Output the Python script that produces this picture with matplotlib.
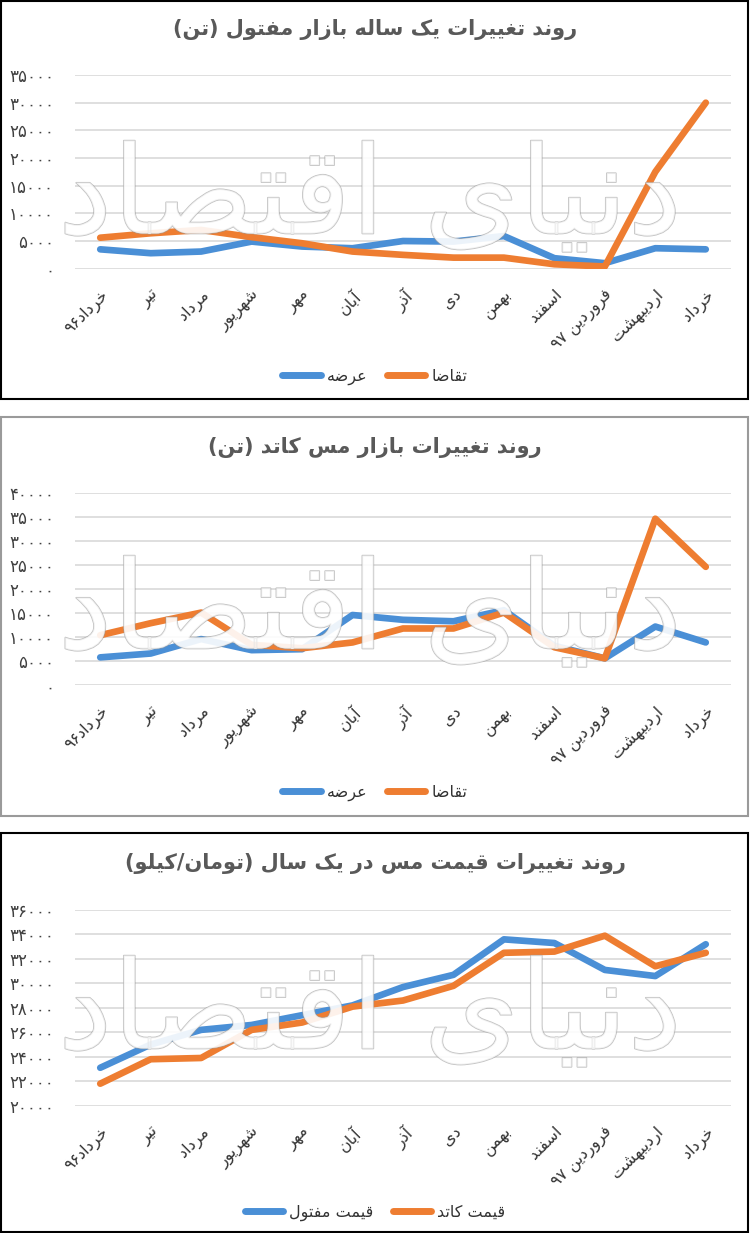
import matplotlib
matplotlib.use("Agg")
import matplotlib.pyplot as plt
import matplotlib.patheffects as pe
from matplotlib.patches import Rectangle
from matplotlib.lines import Line2D

plt.rcParams['font.family'] = ['DejaVu Sans']

# ---- data ----
months = ["خرداد۹۶", "تیر", "مرداد", "شهریور", "مهر", "آبان", "آذر", "دی",
          "بهمن", "اسفند", "فروردین ۹۷", "اردیبهشت", "خرداد"]

wire_supply = [3500, 2800, 3100, 4900, 4000, 3700, 5000, 4900, 5900, 1900, 1000, 3700, 3500]
wire_demand = [5600, 6400, 7000, 5700, 4600, 3100, 2500, 2000, 2000, 800, 400, 17500, 30000]

cathode_supply = [5800, 6600, 9600, 7300, 7500, 14600, 13600, 13300, 15600, 8200, 5600, 12200, 8900]
cathode_demand = [10400, 12900, 15100, 8400, 7700, 8900, 11800, 11800, 15100, 7900, 5600, 34600, 24600]

wire_price = [23100, 25000, 26200, 26600, 27400, 28200, 29700, 30700, 33600, 33300, 31100, 30600, 33200]
cathode_price = [21800, 23800, 23900, 26200, 26800, 28100, 28600, 29800, 32500, 32600, 33900, 31400, 32500]

titles = ["روند تغییرات یک ساله بازار مفتول (تن)",
          "روند تغییرات بازار مس کاتد (تن)",
          "روند تغییرات قیمت مس در یک سال (تومان/کیلو)"]
legend_names = [("عرضه", "تقاضا"), ("عرضه", "تقاضا"), ("قیمت مفتول", "قیمت کاتد")]
watermark = "دنیای اقتصاد"

# ---- tiny persian shaper (matplotlib has no bidi / joining) ----
FORMS = {  # isolated, final, initial, medial
    'ا': ('\uFE8D', '\uFE8E', None, None), 'آ': ('\uFE81', '\uFE82', None, None),
    'ب': ('\uFE8F', '\uFE90', '\uFE91', '\uFE92'), 'ت': ('\uFE95', '\uFE96', '\uFE97', '\uFE98'),
    'خ': ('\uFEA5', '\uFEA6', '\uFEA7', '\uFEA8'), 'د': ('\uFEA9', '\uFEAA', None, None),
    'ذ': ('\uFEAB', '\uFEAC', None, None), 'ر': ('\uFEAD', '\uFEAE', None, None),
    'ز': ('\uFEAF', '\uFEB0', None, None), 'س': ('\uFEB1', '\uFEB2', '\uFEB3', '\uFEB4'),
    'ش': ('\uFEB5', '\uFEB6', '\uFEB7', '\uFEB8'), 'ص': ('\uFEB9', '\uFEBA', '\uFEBB', '\uFEBC'),
    'ض': ('\uFEBD', '\uFEBE', '\uFEBF', '\uFEC0'),
    'ع': ('\uFEC9', '\uFECA', '\uFECB', '\uFECC'), 'غ': ('\uFECD', '\uFECE', '\uFECF', '\uFED0'),
    'ف': ('\uFED1', '\uFED2', '\uFED3', '\uFED4'), 'ق': ('\uFED5', '\uFED6', '\uFED7', '\uFED8'),
    'ل': ('\uFEDD', '\uFEDE', '\uFEDF', '\uFEE0'), 'م': ('\uFEE1', '\uFEE2', '\uFEE3', '\uFEE4'),
    'ن': ('\uFEE5', '\uFEE6', '\uFEE7', '\uFEE8'), 'ه': ('\uFEE9', '\uFEEA', '\uFEEB', '\uFEEC'),
    'و': ('\uFEED', '\uFEEE', None, None), 'ک': ('\uFB8E', '\uFB8F', '\uFB90', '\uFB91'),
    'ی': ('\uFBFC', '\uFBFD', '\uFBFE', '\uFBFF'),
}
DIGITS = set("0123456789۰۱۲۳۴۵۶۷۸۹")


def fa(text):
    out = []
    for i, ch in enumerate(text):
        if ch not in FORMS:
            out.append(ch)
            continue
        prev = text[i - 1] if i > 0 else ''
        nxt = text[i + 1] if i + 1 < len(text) else ''
        join_prev = prev in FORMS and FORMS[prev][2] is not None
        join_next = nxt in FORMS and FORMS[ch][2] is not None
        f = FORMS[ch]
        if join_prev and join_next:
            out.append(f[3])
        elif join_prev:
            out.append(f[1])
        elif join_next:
            out.append(f[2])
        else:
            out.append(f[0])
    # visual order: reverse, keep digit runs left-to-right, mirror brackets
    rev = out[::-1]
    res, run = [], []
    for ch in rev:
        if ch in DIGITS:
            run.append(ch)
        else:
            res.extend(run[::-1])
            run = []
            res.append({'(': ')', ')': '('}.get(ch, ch))
    res.extend(run[::-1])
    return ''.join(res)


def fa_num(v, pos=None):
    return str(int(v)).translate(str.maketrans("0123456789", "۰۱۲۳۴۵۶۷۸۹"))


BLUE = '#4a8fd6'
ORANGE = '#ee7d31'
W, H = 750, 1233

fig = plt.figure(figsize=(W / 100, H / 100), dpi=100)

# panel frames
for top, bottom, col in [(1, 399, 'black'), (417, 816, '#9a9a9a'), (833, 1232, 'black')]:
    fig.patches.append(Rectangle((1 / W, 1 - bottom / H), 747 / W, (bottom - top) / H,
                                 transform=fig.transFigure, fill=False,
                                 edgecolor=col, linewidth=1.5))

panels = [
    (75, 268.7, (0, 35000), range(0, 35001, 5000), wire_supply, wire_demand, 29, 377, 200),
    (492.7, 685.3, (0, 40000), range(0, 40001, 5000), cathode_supply, cathode_demand, 448, 793, 615),
    (910, 1105.7, (20000, 36000), range(20000, 36001, 2000), wire_price, cathode_price, 863, 1213, 1015),
]

x = list(range(len(months)))
for k, (top, bottom, ylim, yticks, s1, s2, ty, ly, wy) in enumerate(panels):
    ax = fig.add_axes([75 / W, 1 - bottom / H, 656 / W, (bottom - top) / H])
    ax.plot(x, s1, color=BLUE, lw=4.8, solid_capstyle='round', solid_joinstyle='round', zorder=3)
    ax.plot(x, s2, color=ORANGE, lw=4.8, solid_capstyle='round', solid_joinstyle='round', zorder=4)
    ax.set_xlim(-0.5, len(months) - 0.5)
    ax.set_ylim(*ylim)
    ax.set_yticks(list(yticks))
    ax.yaxis.set_major_formatter(plt.FuncFormatter(fa_num))
    ax.grid(axis='y', color='#d9d9d9', lw=1.2)
    ax.set_axisbelow(True)
    for sp in ax.spines.values():
        sp.set_visible(False)
    ax.tick_params(axis='y', length=0, pad=15, labelsize=12, labelcolor='#404040')
    ax.tick_params(axis='x', length=0, pad=13)
    ax.set_xticks(x)
    ax.set_xticklabels([fa(m) for m in months], rotation=45, ha='right',
                       rotation_mode='anchor', fontsize=11.5, color='#333333')

    fig.text(0.5, 1 - ty / H, fa(titles[k]), ha='center', va='center',
             fontsize=15, fontweight='bold', color='#595959')

    # faded outlined watermark over the plot
    fig.text(370 / W, 1 - wy / H, fa(watermark), ha='center', va='center',
             fontsize=88, color='white', alpha=0.5, zorder=10,
             path_effects=[pe.withStroke(linewidth=1.2, foreground='#9a9a9a', alpha=0.6),
                           pe.Normal()])

    handles = [Line2D([], [], color=BLUE, lw=5, solid_capstyle='round'),
               Line2D([], [], color=ORANGE, lw=5, solid_capstyle='round')]
    fig.legend(handles, [fa(n) for n in legend_names[k]], loc='center',
               bbox_to_anchor=(0.5, 1 - ly / H), ncol=2, frameon=False,
               fontsize=11.5, handlelength=2.4, columnspacing=1.2, handletextpad=0.4,
               labelcolor='#333333')

fig.savefig("out.png", dpi=100)
